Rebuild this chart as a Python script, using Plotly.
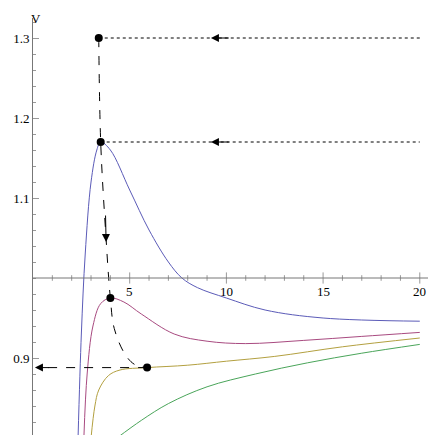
import plotly.graph_objects as go

blue_r = [2.33, 2.5, 2.7, 3.0, 3.3, 3.5, 4.0, 5.0, 6.0, 7.0, 7.7, 8.5, 10, 12, 15, 20]
blue_v = [0.8, 0.93, 1.03, 1.12, 1.16, 1.17, 1.16, 1.11, 1.06, 1.02, 1.0, 0.988, 0.975, 0.96, 0.95, 0.946]
purple_r = [2.63, 2.8, 3.1, 3.5, 4.0, 4.7, 5.6, 7.3, 9, 11, 14, 17, 20]
purple_v = [0.8, 0.88, 0.94, 0.968, 0.975, 0.97, 0.955, 0.93, 0.921, 0.918, 0.922, 0.927, 0.932]
yellow_r = [3.0, 3.2, 3.4, 3.9, 4.5, 5.9, 8, 10, 12.5, 16, 20]
yellow_v = [0.8, 0.84, 0.86, 0.878, 0.885, 0.888, 0.891, 0.896, 0.902, 0.914, 0.925]
green_r = [4.34, 5.6, 7, 9, 11.5, 14.2, 17, 20]
green_v = [0.8, 0.822, 0.843, 0.864, 0.88, 0.894, 0.906, 0.917]

path_r = [3.4, 3.5, 3.75, 4.0, 4.2, 4.75, 5.25, 5.9]
path_v = [1.30, 1.17, 1.06, 0.975, 0.937, 0.905, 0.892, 0.888]
dot_r = [3.4, 3.5, 4.0, 5.9]
dot_v = [1.30, 1.17, 0.975, 0.888]
levels = [1.30, 1.17]
x_ticks = [5, 10, 15, 20]
y_ticks = [0.8, 0.9, 1.1, 1.2, 1.3]

colors = ["#5b5bb8", "#a84a80", "#b3a040", "#4aa55a"]
FONT = "Liberation Serif"
fig = go.Figure()
for (r, v), c in zip([(blue_r, blue_v), (purple_r, purple_v), (yellow_r, yellow_v), (green_r, green_v)], colors):
    fig.add_trace(go.Scatter(x=r, y=v, mode="lines", line=dict(color=c, width=1, shape="spline", smoothing=1.0)))

# x axis at V=1
fig.add_shape(type="line", x0=0, x1=21.2, y0=1.0, y1=1.0, line=dict(color="#777", width=1))
minor = [i for i in range(1, 21) if i % 5]
fig.add_trace(go.Scatter(x=minor, y=[1.0]*len(minor), mode="markers",
                         marker=dict(symbol="line-ns-open", size=4, color="#999", line=dict(color="#999", width=1))))
fig.add_trace(go.Scatter(x=x_ticks, y=[1.0]*len(x_ticks), mode="markers",
                         marker=dict(symbol="line-ns-open", size=8, color="#999", line=dict(color="#999", width=1))))
for t in x_ticks:
    fig.add_annotation(x=t, y=1.0, text=str(t), showarrow=False, yanchor="top", yshift=-4,
                       font=dict(size=13, color="black", family=FONT))
fig.add_annotation(x=20.7, y=1.0, text="<i>r</i>", showarrow=False, yanchor="bottom", yshift=2,
                   font=dict(size=13, color="black", family=FONT))
fig.add_annotation(x=0.15, y=1.325, text="V", showarrow=False, xanchor="center", yanchor="middle",
                   font=dict(size=13, color="black", family=FONT))

# dotted incoming lines
for lv, rr in zip(levels, dot_r[:2]):
    fig.add_trace(go.Scatter(x=[rr, 20], y=[lv, lv], mode="lines", line=dict(color="black", width=1, dash="dot")))
    fig.add_annotation(x=9.2, y=lv, ax=10.2, ay=lv, axref="x", ayref="y", xref="x", yref="y",
                       showarrow=True, arrowhead=2, arrowsize=1.6, arrowwidth=1, arrowcolor="black", text="")

# dashed path
fig.add_trace(go.Scatter(x=path_r, y=path_v, mode="lines",
                         line=dict(color="black", width=1, dash="dash", shape="spline")))
fig.add_annotation(x=3.78, y=1.045, ax=3.75, ay=1.08, axref="x", ayref="y",
                   showarrow=True, arrowhead=2, arrowsize=1.6, arrowwidth=1, arrowcolor="black", text="")
fig.add_trace(go.Scatter(x=[dot_r[-1], 0.6], y=[dot_v[-1], dot_v[-1]], mode="lines",
                         line=dict(color="black", width=1, dash="dash")))
fig.add_annotation(x=0.1, y=dot_v[-1], ax=0.9, ay=dot_v[-1], axref="x", ayref="y",
                   showarrow=True, arrowhead=2, arrowsize=1.6, arrowwidth=1, arrowcolor="black", text="")
fig.add_trace(go.Scatter(x=dot_r, y=dot_v, mode="markers", marker=dict(color="black", size=8)))

fig.update_layout(
    width=436, height=435, margin=dict(l=25, r=1, t=10, b=5, autoexpand=False),
    plot_bgcolor="white", paper_bgcolor="white", showlegend=False,
    xaxis=dict(range=[0, 21.2], showgrid=False, zeroline=False, showticklabels=False, ticks="",
               automargin=False),
    yaxis=dict(range=[0.8, 1.325], showgrid=False, zeroline=False, showline=True, linecolor="#777",
               automargin=False,
               tickvals=y_ticks, ticktext=[str(v) for v in y_ticks], ticks="inside", ticklen=6,
               tickcolor="#999", minor=dict(dtick=0.02, ticks="inside", ticklen=3, tickcolor="#999"),
               tickfont=dict(size=13, color="black", family=FONT)),
)
fig.write_html("out.html")
